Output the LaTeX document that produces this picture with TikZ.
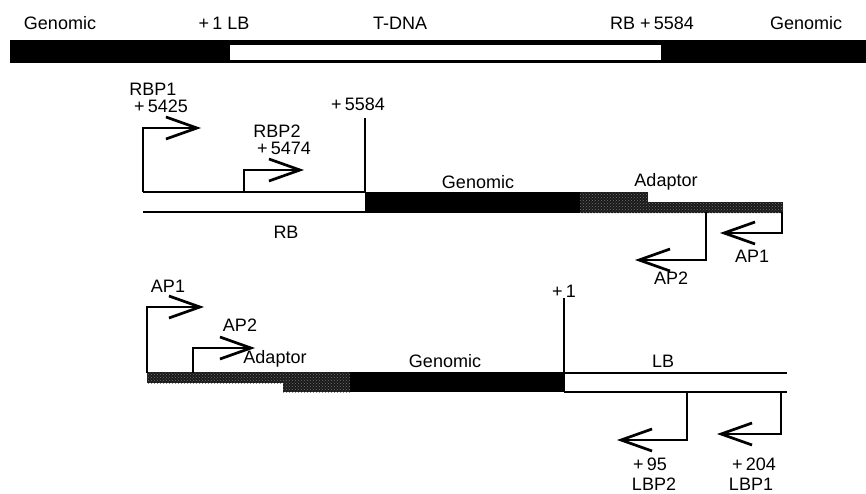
\documentclass[tikz,border=0pt]{standalone}
\usepackage{fontspec}
\setmainfont{Liberation Sans}
\usetikzlibrary{arrows.meta,patterns}
\newcommand{\plusgap}{+\hspace{0.18em}}
\begin{document}
\begin{tikzpicture}[x=1pt,y=-1pt,
  lbl/.style={font=\fontsize{18}{19}\selectfont, inner sep=0pt, anchor=center},
  ln/.style={line width=2.7pt},
  prm/.style={line width=2.7pt, -{Straight Barb[length=31pt,width=22pt,line width=2.7pt]}},
  blk/.style={fill=black},
  adap/.style={fill=black!90},
  adapdots/.style={pattern=crosshatch dots, pattern color=black!55}
]
\useasboundingbox (0,0) rectangle (866,493);
% ---------- top bar ----------
\fill[blk] (10,40) rectangle (866,63);
\fill[white] (230,45) rectangle (661,60);
\node[lbl] (g1) at (60,23) {Genomic};
\node[lbl] (lb0) at (224,23) {\plusgap1 LB};
\node[lbl] (tdna) at (400,23) {T-DNA};
\node[lbl] (rb0) at (652,23) {RB \plusgap5584};
\node[lbl] (g2) at (806,23) {Genomic};

% ---------- section 1 (right border) ----------
\coordinate (r0) at (143,192);
\coordinate (r1) at (365,192);
\fill[blk] (365,192) rectangle (580,213);
\fill[adap] (580,192) rectangle (648,213);
\fill[adap] (648,202) rectangle (783,213);
\fill[adapdots] (580,192) rectangle (648,213);
\fill[adapdots] (648,202) rectangle (783,213);
\draw[ln] (r0) -- (r1);
\draw[ln] (143,212) -- (365,212);
\coordinate (p5584) at (365,118);
\draw[ln] (p5584) -- (r1);
\coordinate (rbp1s) at (143,192);
\coordinate (rbp1t) at (201,128);
\draw[prm] (rbp1s) |- (rbp1t);
\coordinate (rbp2s) at (244,192);
\coordinate (rbp2t) at (304,170);
\draw[prm] (rbp2s) |- (rbp2t);
\coordinate (ap2s) at (706,212);
\coordinate (ap2t) at (635,260);
\draw[prm] (ap2s) |- (ap2t);
\coordinate (ap1s) at (782,212);
\coordinate (ap1t) at (720,233);
\draw[prm] (ap1s) |- (ap1t);
\node[lbl] (rbp1) at (153,89) {RBP1};
\node[lbl] (rbp1n) at (161,106) {\plusgap5425};
\node[lbl] (n5584) at (358,104) {\plusgap5584};
\node[lbl] (rbp2) at (277,131) {RBP2};
\node[lbl] (rbp2n) at (284,148) {\plusgap5474};
\node[lbl] (gen1) at (478,182) {Genomic};
\node[lbl] (ad1) at (666,182) {Adaptor};
\node[lbl] (rb1) at (286,232) {RB};
\node[lbl] (ap2a) at (671,278) {AP2};
\node[lbl] (ap1a) at (752,256) {AP1};

% ---------- section 2 (left border) ----------
\fill[adap] (147,372) rectangle (283,383);
\fill[adap] (283,372) rectangle (350,392);
\fill[adapdots] (147,372) rectangle (283,383);
\fill[adapdots] (283,372) rectangle (350,392);
\fill[blk] (350,372) rectangle (565,392);
\coordinate (l0) at (564,373);
\coordinate (l1) at (787,373);
\draw[ln] (l0) -- (l1);
\draw[ln] (564,392) -- (787,392);
\coordinate (p1) at (564,298);
\draw[ln] (p1) -- (l0);
\coordinate (bap1s) at (147,373);
\coordinate (bap1t) at (204,307);
\draw[prm] (bap1s) |- (bap1t);
\coordinate (bap2s) at (193,373);
\coordinate (bap2t) at (255,348);
\draw[prm] (bap2s) |- (bap2t);
\coordinate (lbp2s) at (687,392);
\coordinate (lbp2t) at (617,440);
\draw[prm] (lbp2s) |- (lbp2t);
\coordinate (lbp1s) at (781,392);
\coordinate (lbp1t) at (717,434);
\draw[prm] (lbp1s) |- (lbp1t);
\node[lbl] (ap1b) at (168,286) {AP1};
\node[lbl] (ap2b) at (240,325) {AP2};
\node[lbl] (ad2) at (275,359) {Adaptor};
\node[lbl] (gen2) at (445,361) {Genomic};
\node[lbl] (n1) at (564,291) {\plusgap1};
\node[lbl] (lb2) at (663,361) {LB};
\node[lbl] (n95) at (650,464) {\plusgap95};
\node[lbl] (lbp2) at (654,484) {LBP2};
\node[lbl] (n204) at (754,464) {\plusgap204};
\node[lbl] (lbp1) at (751,484) {LBP1};
\end{tikzpicture}
\end{document}
